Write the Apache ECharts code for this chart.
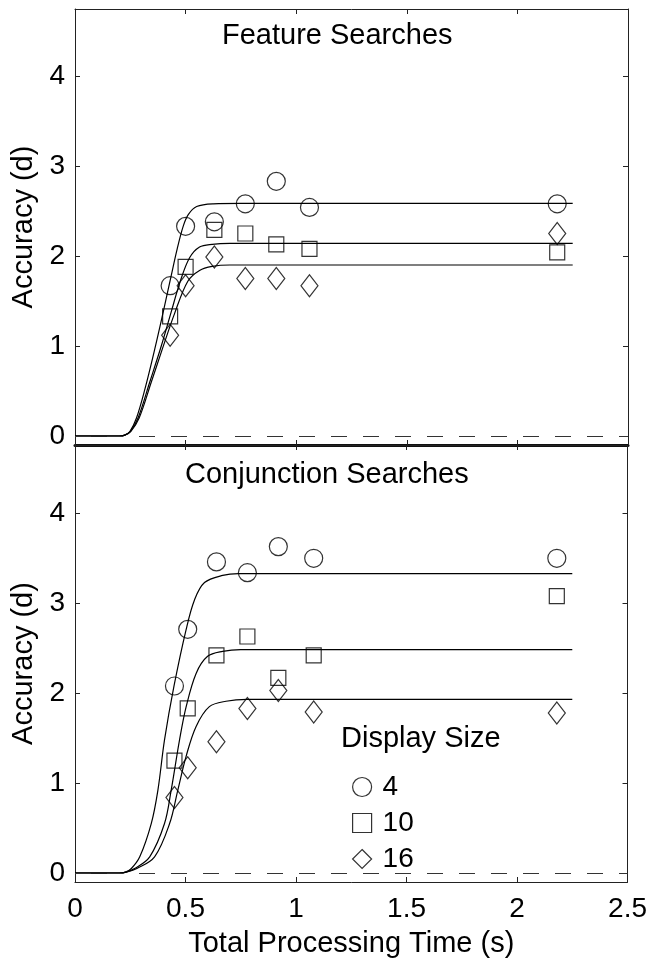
<!DOCTYPE html>
<html>
<head>
<meta charset="utf-8">
<script src="https://cdn.jsdelivr.net/npm/echarts@6/dist/echarts.min.js"></script>
<style>
html,body{margin:0;padding:0;background:#fff;}
#c{width:650px;height:963px;}
</style>
</head>
<body>
<div id="c"></div>
<script>
// ---- data ----
const xTicks = [0, 0.5, 1, 1.5, 2, 2.5];
const yTicks = [0, 1, 2, 3, 4];
const displaySizes = ['4', '10', '16'];

const timesFeature = [0.43, 0.50, 0.63, 0.77, 0.91, 1.06, 2.18];
const feature4  = [1.67, 2.33, 2.38, 2.58, 2.83, 2.54, 2.58];
const feature10 = [1.33, 1.88, 2.29, 2.25, 2.13, 2.08, 2.04];
const feature16 = [1.12, 1.67, 1.99, 1.75, 1.75, 1.67, 2.25];

const timesConj = [0.45, 0.51, 0.64, 0.78, 0.92, 1.08, 2.18];
const conj4  = [2.08, 2.71, 3.46, 3.34, 3.63, 3.50, 3.50];
const conj10 = [1.25, 1.83, 2.42, 2.63, 2.17, 2.42, 3.08];
const conj16 = [0.84, 1.17, 1.46, 1.83, 2.03, 1.79, 1.78];

// fitted curves
const fitFeature4  = [[0,0],[0.2,0],[0.225,0.01],[0.248,0.05],[0.278,0.2],[0.316,0.52],[0.361,0.97],[0.399,1.38],[0.433,1.76],[0.462,2.08],[0.489,2.33],[0.512,2.46],[0.55,2.55],[0.625,2.58],[0.75,2.585],[2.25,2.585]];
const fitFeature10 = [[0,0],[0.2,0],[0.225,0.01],[0.25,0.05],[0.285,0.2],[0.338,0.6],[0.39,1.0],[0.435,1.38],[0.476,1.72],[0.518,1.98],[0.563,2.10],[0.62,2.13],[0.7,2.14],[2.25,2.14]];
const fitFeature16 = [[0,0],[0.2,0],[0.225,0.01],[0.252,0.05],[0.29,0.2],[0.345,0.6],[0.398,0.99],[0.45,1.36],[0.51,1.72],[0.563,1.84],[0.62,1.885],[0.7,1.9],[2.25,1.9]];

const fitConj4  = [[0,0],[0.2,0],[0.228,0.01],[0.255,0.05],[0.293,0.18],[0.345,0.55],[0.375,0.92],[0.405,1.48],[0.448,2.08],[0.503,2.71],[0.541,3.04],[0.586,3.23],[0.668,3.31],[0.74,3.33],[2.25,3.33]];
const fitConj10 = [[0,0],[0.2,0],[0.23,0.01],[0.27,0.05],[0.338,0.18],[0.405,0.55],[0.435,0.92],[0.473,1.48],[0.503,1.85],[0.548,2.22],[0.6,2.41],[0.668,2.465],[0.75,2.485],[2.25,2.485]];
const fitConj16 = [[0,0],[0.2,0],[0.232,0.01],[0.28,0.05],[0.36,0.18],[0.428,0.55],[0.465,0.92],[0.503,1.30],[0.548,1.63],[0.608,1.85],[0.683,1.91],[0.78,1.93],[2.25,1.93]];

const panelTitles = ['Feature Searches', 'Conjunction Searches'];
const xName = 'Total Processing Time (s)';
const yName = 'Accuracy (d)';
const legendTitle = 'Display Size';

// ---- chart ----
const FONT = '"Liberation Sans", Arial, Helvetica, sans-serif';
const INK = '#000';
const FRAME = '#222';

function zip(xs, ys) { return xs.map((x, i) => [x, ys[i]]); }

function xAxisDef(grid, position, opts) {
  return Object.assign({
    type: 'value', gridIndex: grid, position: position,
    min: xTicks[0], max: xTicks[xTicks.length - 1], interval: xTicks[1] - xTicks[0],
    axisLine: { show: true, onZero: false, lineStyle: { color: FRAME, width: 1 } },
    axisTick: { show: true, inside: true, length: 5, lineStyle: { color: FRAME, width: 1 } },
    axisLabel: { show: false },
    splitLine: { show: false }
  }, opts || {});
}
function yAxisDef(grid, position, max, opts) {
  return Object.assign({
    type: 'value', gridIndex: grid, position: position,
    min: -0.1, max: max,
    axisLine: { show: true, onZero: false, lineStyle: { color: FRAME, width: 1 } },
    axisTick: { show: true, inside: true, length: 5, customValues: yTicks, lineStyle: { color: FRAME, width: 1 } },
    axisLabel: { show: false, customValues: yTicks },
    splitLine: { show: false }
  }, opts || {});
}

const yLabelStyle = { show: true, customValues: yTicks, fontSize: 28, color: INK, fontFamily: FONT, margin: 10 };
const yNameOpts = {
  name: yName, nameLocation: 'middle', nameGap: 24,
  nameTextStyle: { fontSize: 29, color: INK, fontFamily: FONT }
};

const markerStyle = { color: 'rgba(0,0,0,0)', borderColor: INK, borderWidth: 1.2 };
function scatter(name, data, grid, symbol, size) {
  return {
    type: 'scatter', name: name, xAxisIndex: grid * 2, yAxisIndex: grid * 2,
    data: data, symbol: symbol, symbolSize: size,
    itemStyle: markerStyle, emphasis: { disabled: true }, silent: true, z: 3
  };
}
function fit(data, grid, withZero) {
  const s = {
    type: 'line', xAxisIndex: grid * 2, yAxisIndex: grid * 2, data: data,
    showSymbol: false, symbol: 'none', smooth: 0.35,
    lineStyle: { color: INK, width: 1.2 }, silent: true, z: 2
  };
  if (withZero) {
    s.markLine = {
      silent: true, symbol: ['none', 'none'], label: { show: false },
      lineStyle: { color: '#333', width: 1, type: [16, 16] },
      data: [{ yAxis: 0 }], animation: false
    };
  }
  return s;
}

const chart = echarts.init(document.getElementById('c'), null, { renderer: 'canvas' });
chart.setOption({
  animation: false,
  backgroundColor: '#fff',
  grid: [
    { left: 75, right: 22, top: 9, height: 436 },
    { left: 75, right: 22, top: 445, height: 437 }
  ],
  xAxis: [
    xAxisDef(0, 'bottom', { axisLine: { show: true, onZero: false, lineStyle: { color: '#111', width: 3 } } }),
    xAxisDef(0, 'top'),
    xAxisDef(1, 'bottom', {
      axisLabel: { show: true, fontSize: 28, color: INK, fontFamily: FONT, margin: 13 },
      name: xName, nameLocation: 'middle', nameGap: 47,
      nameTextStyle: { fontSize: 29, color: INK, fontFamily: FONT }
    }),
    xAxisDef(1, 'top')
  ],
  yAxis: [
    yAxisDef(0, 'left', 4.745, Object.assign({ axisLabel: yLabelStyle }, yNameOpts)),
    yAxisDef(0, 'right', 4.745),
    yAxisDef(1, 'left', 4.76, Object.assign({ axisLabel: yLabelStyle }, yNameOpts)),
    yAxisDef(1, 'right', 4.76)
  ],
  legend: {
    show: true, orient: 'vertical', left: 347, top: 768,
    data: [
      { name: displaySizes[0], icon: 'circle' },
      { name: displaySizes[1], icon: 'rect' },
      { name: displaySizes[2], icon: 'diamond' }
    ],
    itemWidth: 19, itemHeight: 19, itemGap: 8, selectedMode: false,
    itemStyle: { color: 'rgba(0,0,0,0)', borderColor: INK, borderWidth: 1.2 },
    textStyle: { fontSize: 28, color: INK, fontFamily: FONT, padding: [0, 0, 0, 6] }
  },
  graphic: [
    { type: 'text', left: 337 - 115, top: 21, style: { text: panelTitles[0], fontSize: 29, fontFamily: FONT, fill: INK } },
    { type: 'text', left: 185, top: 460, style: { text: panelTitles[1], fontSize: 29, fontFamily: FONT, fill: INK } },
    { type: 'text', left: 341, top: 724, style: { text: legendTitle, fontSize: 29, fontFamily: FONT, fill: INK } }
  ],
  series: [
    fit(fitFeature4, 0, true),
    fit(fitFeature10, 0, false),
    fit(fitFeature16, 0, false),
    scatter(displaySizes[0], zip(timesFeature, feature4), 0, 'circle', 18),
    scatter(displaySizes[1], zip(timesFeature, feature10), 0, 'rect', 15),
    scatter(displaySizes[2], zip(timesFeature, feature16), 0, 'diamond', [17, 22]),
    fit(fitConj4, 1, true),
    fit(fitConj10, 1, false),
    fit(fitConj16, 1, false),
    scatter(displaySizes[0], zip(timesConj, conj4), 1, 'circle', 18),
    scatter(displaySizes[1], zip(timesConj, conj10), 1, 'rect', 15),
    scatter(displaySizes[2], zip(timesConj, conj16), 1, 'diamond', [17, 22])
  ]
});
</script>
</body>
</html>
